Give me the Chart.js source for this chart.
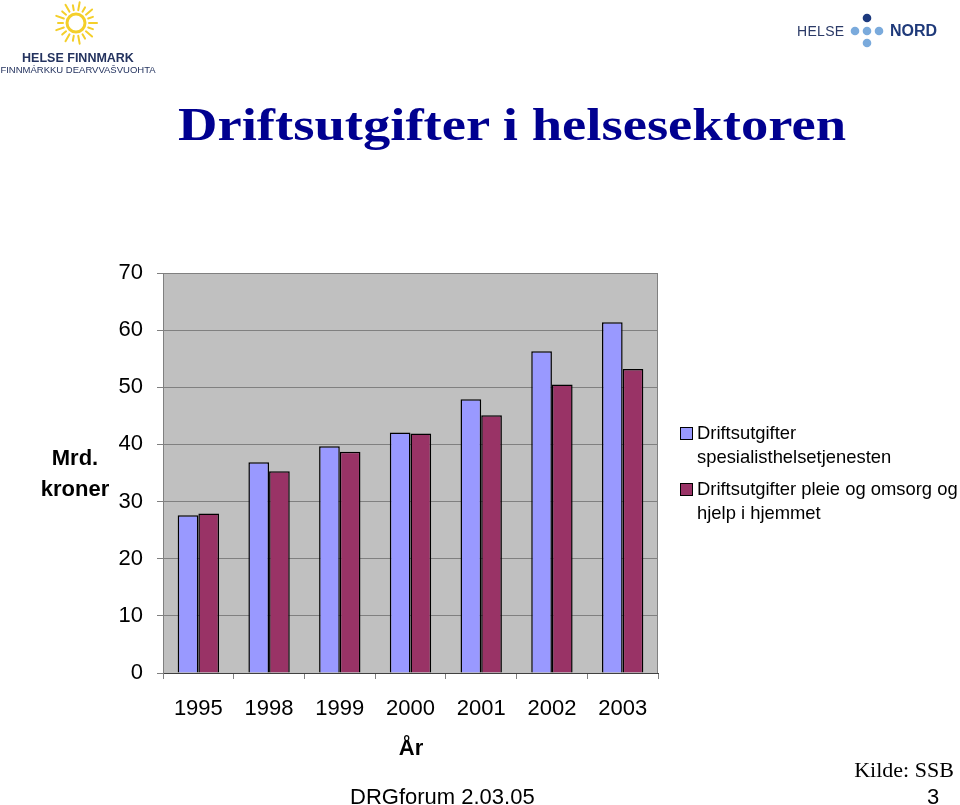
<!DOCTYPE html>
<html>
<head>
<meta charset="utf-8">
<script src="https://cdn.jsdelivr.net/npm/chart.js@4"></script>
<style>
  html, body { margin: 0; padding: 0; background: #fff; }
  #wrap { position: relative; width: 960px; height: 805px; overflow: hidden; background: #fff; }
  #c { position: absolute; left: 0; top: 0; }
  .t { position: absolute; white-space: nowrap; line-height: 1; transform: translate(-50%, -50%); }
  .l { position: absolute; white-space: nowrap; line-height: 1; transform: translate(0, -50%); }
  .sans { font-family: "Liberation Sans", Arial, sans-serif; }
  .serif { font-family: "Liberation Serif", "Times New Roman", serif; }
  .sq { position: absolute; width: 11px; height: 11px; border: 1px solid #000; }
</style>
</head>
<body>
<div id="wrap">
  <canvas id="c" width="960" height="805"></canvas>

  <!-- Helse Finnmark logo -->
  <svg style="position:absolute;left:46px;top:0px" width="60" height="48" viewBox="0 0 60 48">
    <g stroke="#f4cf2a" stroke-width="2" stroke-linecap="round" id="rays"></g>
    <circle cx="30" cy="23" r="9" fill="none" stroke="#f4cf2a" stroke-width="3"/>
  </svg>
  <div class="t sans" style="left:78px;top:58px;font-size:12.5px;font-weight:bold;color:#24335f;">HELSE FINNMARK</div>
  <div class="t sans" style="left:78px;top:70px;font-size:9.5px;color:#24335f;">FINNMÁRKKU DEARVVAŠVUOHTA</div>

  <!-- Helse Nord logo -->
  <div class="l sans" style="left:797px;top:31px;font-size:14px;color:#2b3a67;letter-spacing:0.3px;">HELSE</div>
  <svg style="position:absolute;left:848px;top:10px" width="40" height="40" viewBox="0 0 40 40">
    <circle cx="19" cy="8" r="4.3" fill="#1d3a7e"/>
    <circle cx="7" cy="21" r="4.3" fill="#7aaadc"/>
    <circle cx="19" cy="21" r="4.3" fill="#7aaadc"/>
    <circle cx="31" cy="21" r="4.3" fill="#7aaadc"/>
    <circle cx="19" cy="33" r="4.3" fill="#7aaadc"/>
  </svg>
  <div class="l sans" style="left:890px;top:31px;font-size:16px;font-weight:bold;color:#1f3a7a;">NORD</div>

  <!-- Title -->
  <div class="t serif" id="title" style="left:512px;top:125px;font-size:46px;font-weight:bold;color:#000090;">Driftsutgifter i helsesektoren</div>

  <!-- Axis titles -->
  <div class="t sans" style="left:75px;top:458px;font-size:22px;font-weight:bold;">Mrd.</div>
  <div class="t sans" style="left:75px;top:489px;font-size:22px;font-weight:bold;">kroner</div>
  <div class="t sans" style="left:411px;top:748px;font-size:22px;font-weight:bold;">År</div>

  <!-- Legend -->
  <div class="sq" style="left:680px;top:427px;background:#9999ff;"></div>
  <div class="l sans" style="left:697px;top:433px;font-size:18.4px;">Driftsutgifter</div>
  <div class="l sans" style="left:697px;top:457px;font-size:18.4px;">spesialisthelsetjenesten</div>
  <div class="sq" style="left:680px;top:483px;background:#993366;"></div>
  <div class="l sans" style="left:697px;top:489px;font-size:18.4px;">Driftsutgifter pleie og omsorg og</div>
  <div class="l sans" style="left:697px;top:513px;font-size:18.4px;">hjelp i hjemmet</div>

  <!-- Footer -->
  <div class="t serif" style="left:904px;top:770px;font-size:22px;">Kilde: SSB</div>
  <div class="l sans" style="left:350px;top:797px;font-size:22px;">DRGforum 2.03.05</div>
  <div class="t sans" style="left:933px;top:797px;font-size:22px;">3</div>
</div>

<script>
// ---- Data ----
const categories = ["1995", "1998", "1999", "2000", "2001", "2002", "2003"];
const spesialisthelsetjenesten = [27.6, 36.9, 39.7, 42.1, 47.9, 56.3, 61.4];
const pleieOgOmsorg = [27.9, 35.3, 38.7, 41.9, 45.1, 50.5, 53.2];
const seriesLabels = ["Driftsutgifter spesialisthelsetjenesten", "Driftsutgifter pleie og omsorg og hjelp i hjemmet"];
const yMin = 0, yMax = 70, yStep = 10;

// stretch title to reference width
(function () {
  const el = document.getElementById('title');
  const w = el.getBoundingClientRect().width;
  el.style.transform = 'translate(-50%, -50%) scaleX(' + (668 / w) + ')';
})();

// sun rays
(function () {
  const g = document.getElementById('rays');
  const n = 18;
  for (let i = 0; i < n; i++) {
    const a = (i / n) * Math.PI * 2;
    const r1 = 13, r2 = i % 2 ? 18 : 21;
    const l = document.createElementNS('http://www.w3.org/2000/svg', 'line');
    l.setAttribute('x1', 30 + r1 * Math.cos(a));
    l.setAttribute('y1', 23 + r1 * Math.sin(a));
    l.setAttribute('x2', 30 + r2 * Math.cos(a));
    l.setAttribute('y2', 23 + r2 * Math.sin(a));
    g.appendChild(l);
  }
})();

const plotBg = {
  id: 'plotBg',
  beforeDraw(chart) {
    const { ctx, chartArea: a } = chart;
    ctx.save();
    ctx.fillStyle = '#c0c0c0';
    ctx.fillRect(a.left, a.top, a.right - a.left, a.bottom - a.top);
    ctx.restore();
  },
  beforeDatasetsDraw(chart) {
    const { ctx, chartArea: a } = chart;
    ctx.save();
    ctx.strokeStyle = '#808080';
    ctx.lineWidth = 1;
    ctx.beginPath();
    ctx.moveTo(a.left, a.top + 0.5);
    ctx.lineTo(a.right - 0.5, a.top + 0.5);
    ctx.lineTo(a.right - 0.5, a.bottom);
    ctx.stroke();
    ctx.restore();
  }
};

new Chart(document.getElementById('c'), {
  type: 'bar',
  data: {
    labels: categories,
    datasets: [
      { label: seriesLabels[0], data: spesialisthelsetjenesten, backgroundColor: '#9999ff', borderColor: '#000', borderWidth: 1.5 },
      { label: seriesLabels[1], data: pleieOgOmsorg, backgroundColor: '#993366', borderColor: '#000', borderWidth: 1.5 }
    ]
  },
  options: {
    responsive: false,
    animation: false,
    events: [],
    layout: { padding: { top: 273, right: 302, left: 0, bottom: 0 } },
    datasets: { bar: { barPercentage: 1, categoryPercentage: 0.585 } },
    plugins: { legend: { display: false }, tooltip: { enabled: false } },
    scales: {
      x: {
        afterFit(s) { s.height = 132; },
        grid: { offset: true, drawOnChartArea: false, drawTicks: true, tickLength: 6, color: '#808080' },
        border: { color: '#404040', width: 1 },
        ticks: { color: '#000', padding: 17, font: { family: 'Liberation Sans', size: 22 } }
      },
      y: {
        min: yMin, max: yMax,
        afterFit(s) { s.width = 163; },
        grid: { color: '#808080', tickLength: 6, drawTicks: true },
        border: { color: '#808080', width: 1 },
        ticks: { stepSize: yStep, color: '#000', padding: 14, font: { family: 'Liberation Sans', size: 22 } }
      }
    }
  },
  plugins: [plotBg]
});
</script>
</body>
</html>
